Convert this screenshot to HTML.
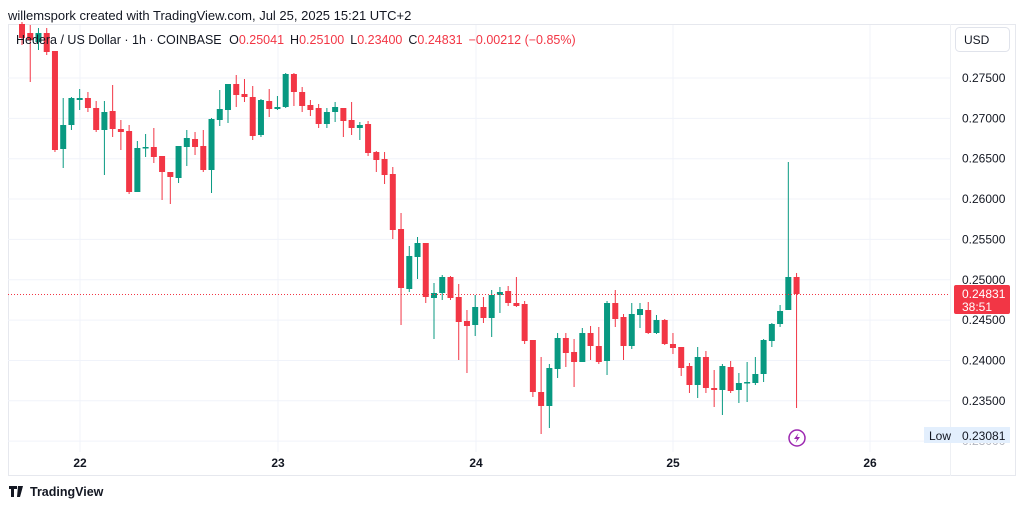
<!DOCTYPE html>
<html><head><meta charset="utf-8"><style>
body{margin:0;width:1024px;height:507px;background:#fff;overflow:hidden;font-family:"Liberation Sans",sans-serif}
</style></head><body>
<svg id="s" width="1024" height="507" xmlns="http://www.w3.org/2000/svg" font-family="Liberation Sans, sans-serif">
<text x="8" y="20" font-size="13" fill="#131722">willemspork created with TradingView.com, Jul 25, 2025 15:21 UTC+2</text>
<rect x="8.5" y="24.5" width="1007" height="451" fill="none" stroke="#e6e8ee"/>
<line x1="950.5" y1="24" x2="950.5" y2="476" stroke="#eef0f4"/>
<g id="grid" stroke="#f0f3fa" stroke-width="1"></g>
<g id="c"></g>
<line x1="8" y1="294.5" x2="950" y2="294.5" stroke="#f23645" stroke-dasharray="1,2" stroke-width="1"/>
<text x="16" y="44" font-size="12.5" fill="#131722">Hedera / US Dollar · 1h · COINBASE <tspan dx="4">O</tspan><tspan fill="#f23645">0.25041</tspan><tspan dx="6">H</tspan><tspan fill="#f23645">0.25100</tspan><tspan dx="6">L</tspan><tspan fill="#f23645">0.23400</tspan><tspan dx="6">C</tspan><tspan fill="#f23645">0.24831</tspan><tspan dx="6" fill="#f23645">−0.00212 (−0.85%)</tspan></text>
<rect x="955.5" y="27.5" width="54" height="24" rx="4" fill="#fff" stroke="#e0e3eb"/>
<text x="964" y="44" font-size="12" fill="#131722">USD</text>
<g id="ax" font-size="12" fill="#131722"></g>
<rect x="954" y="285" width="56" height="29" rx="2" fill="#f23645"/>
<text x="962" y="298" font-size="12" fill="#fff">0.24831</text>
<text x="962" y="311" font-size="12" fill="#fff">38:51</text>
<rect x="924" y="427" width="86" height="16" fill="#e3effd"/>
<text x="929" y="440" font-size="12" fill="#131722">Low</text>
<text x="962" y="440" font-size="12" fill="#131722">0.23081</text>
<circle cx="797" cy="438" r="8" fill="#fff" stroke="#9c27b0" stroke-width="1.5"/>
<path d="M798.5 433 L794 439 L797 439 L795.5 443 L800 437 L797 437 Z" fill="#9c27b0"/>
<g font-size="12" font-weight="bold" fill="#131722" text-anchor="middle">
<text x="80" y="467">22</text><text x="278" y="467">23</text><text x="476" y="467">24</text><text x="673" y="467">25</text><text x="870" y="467">26</text>
</g>
<path d="M9 486 h8 v3 h-3 v8 h-3 v-8 h-2z M18 486 h5 l-3 11 h-3z" fill="#131722"/>
<text x="30" y="496" font-size="12.5" font-weight="bold" fill="#131722">TradingView</text>
</svg>
<script>
var C=[[24,38,22,45,'r'],[33,40,25,82,'r'],[33,42,28,50,'g'],[33,52,28,55,'r'],[51,150,51,152,'r'],[125,149,98,168,'g'],[98,125,97,130,'g'],[98,100,89,110,'g'],[98,108,92,112,'r'],[108,130,101,132,'r'],[112,130,101,175,'g'],[111,129,85,137,'r'],[129,132,120,150,'r'],[131,192,125,194,'r'],[148,192,141,192,'g'],[147,148,134,157,'g'],[147,157,128,163,'r'],[156,172,156,200,'r'],[172,177,172,204,'r'],[146,178,146,183,'g'],[138,147,130,166,'g'],[139,147,132,155,'r'],[146,170,130,172,'r'],[119,170,118,193,'g'],[109,120,90,126,'g'],[84,110,84,123,'g'],[84,95,75,107,'r'],[94,97,79,102,'r'],[97,136,86,140,'r'],[100,135,99,137,'g'],[101,109,89,117,'r'],[107,109,96,110,'g'],[74,107,73,108,'g'],[74,92,73,106,'r'],[92,106,87,112,'r'],[105,110,100,116,'r'],[108,124,104,128,'r'],[112,124,108,128,'g'],[107,112,102,122,'g'],[108,121,108,137,'r'],[120,128,102,135,'r'],[125,128,122,140,'g'],[124,153,121,156,'r'],[152,160,151,172,'r'],[159,175,152,184,'r'],[174,230,167,239,'r'],[229,288,213,325,'r'],[256,289,246,292,'g'],[243,257,237,279,'g'],[243,297,243,303,'r'],[293,298,283,339,'g'],[277,293,275,300,'g'],[277,298,276,300,'r'],[297,322,284,360,'r'],[321,326,310,373,'r'],[307,325,295,336,'g'],[307,318,297,323,'r'],[295,318,290,337,'g'],[292,295,287,313,'g'],[291,303,286,306,'r'],[303,306,277,307,'r'],[304,341,301,344,'r'],[340,392,340,397,'r'],[392,406,357,434,'r'],[368,406,364,428,'g'],[338,369,333,378,'g'],[338,353,333,367,'r'],[352,362,339,387,'r'],[333,362,328,362,'g'],[333,346,326,360,'r'],[346,362,327,364,'r'],[303,361,301,375,'g'],[303,319,290,327,'r'],[317,346,314,360,'r'],[314,346,303,349,'g'],[309,315,303,328,'g'],[310,333,302,334,'r'],[320,333,315,334,'g'],[320,344,319,345,'r'],[344,348,333,354,'r'],[347,368,347,376,'r'],[366,385,363,393,'r'],[357,385,347,398,'g'],[357,388,351,393,'r'],[388,390,370,407,'r'],[366,390,364,415,'g'],[367,391,361,393,'r'],[383,390,373,403,'g'],[382,383,362,402,'g'],[374,383,357,385,'g'],[340,374,339,382,'g'],[324,341,323,347,'g'],[311,324,305,327,'g'],[277,310,162,310,'g'],[277,294,273,408,'r']];
var ns='http://www.w3.org/2000/svg',g=document.getElementById('c'),h='';
C.forEach(function(c,i){var x=22+i*8.24,col=c[4]=='g'?'#089981':'#f23645';
h+='<line x1="'+x+'" x2="'+x+'" y1="'+c[2]+'" y2="'+c[3]+'" stroke="'+col+'" stroke-width="1"/>';
h+='<rect x="'+(x-3)+'" y="'+c[0]+'" width="6" height="'+Math.max(1.5,c[1]-c[0])+'" fill="'+col+'"/>';});
g.innerHTML=h;
var gr='',ax='',p=['0.27500','0.27000','0.26500','0.26000','0.25500','0.25000','0.24500','0.24000','0.23500','0.23000'];
p.forEach(function(t,i){var y=78+i*40.35;gr+='<line x1="8" x2="950" y1="'+y+'" y2="'+y+'"/>';
if(i<9)ax+='<text x="962" y="'+(y+4)+'">'+t+'</text>';else ax+='<text x="962" y="'+(y+4)+'" fill="#b2b5be">'+t+'</text>';});
[80,278,476,673,870].forEach(function(x){gr+='<line x1="'+x+'" x2="'+x+'" y1="25" y2="452"/>';});
document.getElementById('grid').innerHTML=gr;document.getElementById('ax').innerHTML=ax;
</script>
</body></html>
